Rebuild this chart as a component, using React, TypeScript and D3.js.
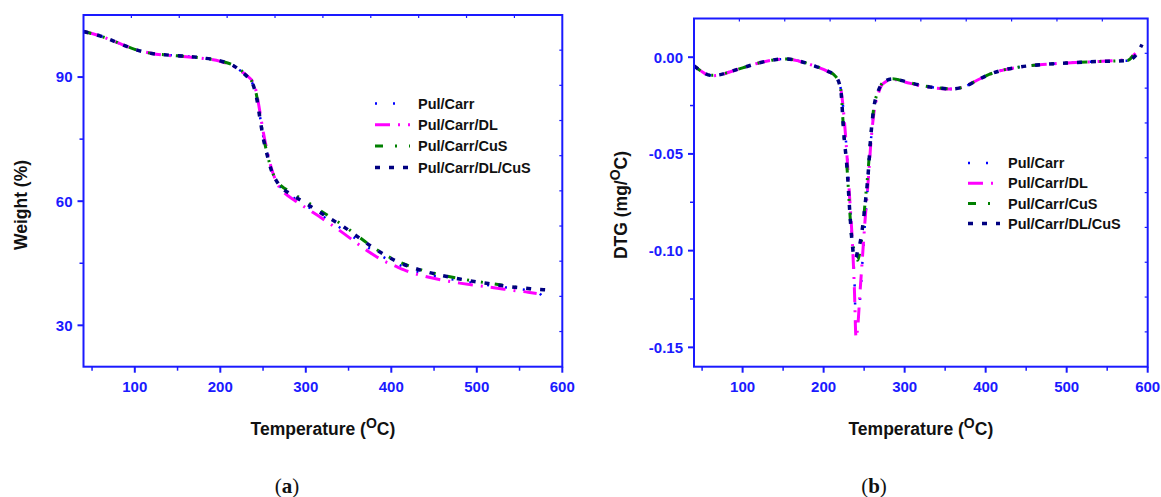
import React from "react";
import * as d3 from "d3";

// ---- data ----
const seriesNames = ["Pul/Carr", "Pul/Carr/DL", "Pul/Carr/CuS", "Pul/Carr/DL/CuS"];
const seriesColors = ["#0000ff", "#ff00ff", "#008000", "#000080"];

const xTicks = [100, 200, 300, 400, 500, 600];
const xMinorTicks = [50, 150, 250, 350, 450, 550];

// (a) TGA
const tgaTemp = [40, 60, 80, 100, 120, 140, 160, 180, 200, 215, 225, 232, 238, 242, 246, 250, 255, 260, 266, 272, 280, 290, 300, 315, 330, 345, 360, 375, 390, 405, 420, 440, 460, 480, 500, 520, 540, 560, 570, 578, 590];
const tgaPulCarr = [101.0, 99.9, 98.3, 96.7, 95.7, 95.3, 95.0, 94.6, 93.9, 92.8, 91.3, 90.0, 88.3, 85.8, 81.0, 76.0, 71.3, 67.5, 64.8, 63.0, 61.6, 60.3, 59.0, 57.0, 55.0, 52.9, 50.7, 48.5, 46.6, 45.0, 43.7, 42.4, 41.5, 40.8, 40.1, 39.5, 39.0, 38.5, 38.2, 36.6, null];
const tgaPulCarrDL = [101.0, 99.9, 98.3, 96.7, 95.7, 95.2, 94.9, 94.5, 93.8, 92.7, 91.3, 90.2, 88.8, 86.5, 82.0, 77.0, 72.0, 67.8, 64.5, 62.6, 61.2, 59.8, 58.4, 56.4, 54.3, 52.1, 49.8, 47.6, 45.7, 44.3, 43.0, 41.8, 40.9, 40.2, 39.6, 39.1, 38.5, 38.0, 37.7, null, null];
const tgaPulCarrCuS = [101.0, 99.9, 98.3, 96.7, 95.7, 95.3, 95.0, 94.6, 93.9, 92.9, 91.5, 90.2, 88.5, 86.0, 81.0, 76.0, 71.3, 67.5, 65.0, 63.6, 62.5, 61.2, 60.0, 58.0, 56.0, 54.0, 51.7, 49.4, 47.4, 45.7, 44.4, 43.1, 42.1, 41.3, 40.6, 40.0, 39.4, 38.9, 38.7, null, null];
const tgaPulCarrDLCuS = [101.0, 99.9, 98.3, 96.7, 95.7, 95.3, 95.0, 94.6, 93.9, 92.8, 91.3, 90.0, 88.3, 85.5, 80.5, 75.5, 71.0, 67.3, 64.8, 63.2, 62.0, 60.7, 59.5, 57.5, 55.6, 53.7, 51.5, 49.3, 47.3, 45.6, 44.3, 43.0, 42.0, 41.2, 40.5, 39.9, 39.3, 38.9, 38.7, 38.6, 38.4];
const tgaTicks = [30, 60, 90];
const tgaMinorTicks = [45, 75];

// (b) DTG
const dtgTemp = [40, 50, 60, 70, 85, 100, 120, 140, 155, 170, 190, 205, 215, 221, 225, 229, 232, 235, 238, 240, 242, 245, 248, 251, 255, 258, 262, 267, 273, 285, 300, 320, 340, 360, 375, 390, 405, 420, 440, 470, 500, 540, 575, 585, 593];
const dtgPulCarr = [-0.0045, -0.0075, -0.0094, -0.0092, -0.0074, -0.0055, -0.0030, -0.0013, -0.0009, -0.0020, -0.0047, -0.0072, -0.0100, -0.0160, -0.0300, -0.0520, -0.0720, -0.0920, -0.1150, -0.1400, -0.1370, -0.1250, -0.1050, -0.0860, -0.0640, -0.0450, -0.0280, -0.0190, -0.0135, -0.0113, -0.0126, -0.0146, -0.0159, -0.0165, -0.0150, -0.0118, -0.0088, -0.0068, -0.0052, -0.0038, -0.0030, -0.0022, -0.0018, -0.0022, null];
const dtgPulCarrDL = [-0.0045, -0.0075, -0.0096, -0.0094, -0.0075, -0.0055, -0.0030, -0.0013, -0.0009, -0.0021, -0.0048, -0.0073, -0.0098, -0.0160, -0.0300, -0.0520, -0.0720, -0.0920, -0.1200, -0.1450, -0.1400, -0.1210, -0.1030, -0.0850, -0.0640, -0.0460, -0.0290, -0.0195, -0.0138, -0.0115, -0.0128, -0.0148, -0.0160, -0.0165, -0.0150, -0.0118, -0.0088, -0.0068, -0.0052, -0.0038, -0.0030, -0.0022, -0.0012, 0.0020, null];
const dtgPulCarrCuS = [-0.0045, -0.0075, -0.0094, -0.0092, -0.0074, -0.0055, -0.0030, -0.0013, -0.0009, -0.0020, -0.0047, -0.0072, -0.0100, -0.0165, -0.0400, -0.0580, -0.0780, -0.0950, -0.1000, -0.1040, -0.1050, -0.1000, -0.0900, -0.0760, -0.0580, -0.0420, -0.0260, -0.0180, -0.0132, -0.0112, -0.0125, -0.0145, -0.0158, -0.0164, -0.0150, -0.0118, -0.0088, -0.0068, -0.0052, -0.0038, -0.0030, -0.0022, -0.0017, 0.0030, null];
const dtgPulCarrDLCuS = [-0.0045, -0.0075, -0.0094, -0.0092, -0.0074, -0.0055, -0.0030, -0.0013, -0.0009, -0.0020, -0.0047, -0.0072, -0.0100, -0.0165, -0.0400, -0.0580, -0.0780, -0.0950, -0.1040, -0.1035, -0.1000, -0.0960, -0.0880, -0.0770, -0.0600, -0.0420, -0.0260, -0.0180, -0.0132, -0.0112, -0.0125, -0.0145, -0.0158, -0.0164, -0.0150, -0.0118, -0.0088, -0.0068, -0.0052, -0.0038, -0.0030, -0.0022, -0.0017, 0.0008, 0.0066];
const dtgTicks = [0, -0.05, -0.1, -0.15];
const dtgMinorTicks = [-0.025, -0.075, -0.125];

// line styles per series (Origin-like)
const lineStyles = [
  { dash: "2,16", width: 2.5 },
  { dash: "15,8,2,8", width: 3 },
  { dash: "8,12,2,12,2,12", width: 3 },
  { dash: "5,9", width: 3.5 },
];

const AXIS = "#1a1aff";
const FONT = "'Liberation Sans', Arial, sans-serif";

type PanelProps = {
  frame: { left: number; top: number; right: number; bottom: number };
  xDomain: [number, number];
  yDomain: [number, number];
  xs: number[];
  series: (number | null)[][];
  yTicks: number[];
  yMinor: number[];
  yFmt: (v: number) => string;
  yTitle: React.ReactNode;
  yTitleX: number;
  legend: { x: number; y: number; gap: number; len: number };
  caption: string;
  captionX: number;
};

function Panel(p: PanelProps) {
  const { left, top, right, bottom } = p.frame;
  const x = d3.scaleLinear().domain(p.xDomain).range([left, right]);
  const y = d3.scaleLinear().domain(p.yDomain).range([bottom, top]);
  const xc = (left + right) / 2;

  // top/right axes carry 10 equal inner divisions
  const topTicks = d3.range(1, 10).map((i) => p.xDomain[0] + (i * (p.xDomain[1] - p.xDomain[0])) / 10);
  const rightTicks = d3.range(1, 10).map((i) => p.yDomain[0] + (i * (p.yDomain[1] - p.yDomain[0])) / 10);

  const line = d3
    .line<number | null>()
    .defined((d) => d != null)
    .x((_, i) => x(p.xs[i]))
    .y((d) => y(d as number))
    .curve(d3.curveMonotoneX);

  return (
    <g>
      {p.series.map((s, i) => (
        <path
          key={i}
          d={line(s) || ""}
          fill="none"
          stroke={seriesColors[i]}
          strokeWidth={lineStyles[i].width}
          strokeDasharray={lineStyles[i].dash}
        />
      ))}

      <rect x={left} y={top} width={right - left} height={bottom - top} fill="none" stroke={AXIS} strokeWidth={2} />

      {xTicks.map((t) => (
        <g key={"x" + t}>
          <line x1={x(t)} x2={x(t)} y1={bottom} y2={bottom + 6} stroke={AXIS} strokeWidth={2} />
          <text x={x(t)} y={bottom + 25} textAnchor="middle" fill={AXIS} fontFamily={FONT} fontWeight="bold" fontSize={15}>
            {t}
          </text>
        </g>
      ))}
      {xMinorTicks.map((t) => (
        <line key={"xm" + t} x1={x(t)} x2={x(t)} y1={bottom} y2={bottom + 4} stroke={AXIS} strokeWidth={1.5} />
      ))}
      {topTicks.map((t, i) => (
        <line key={"xt" + i} x1={x(t)} x2={x(t)} y1={top} y2={top + 3} stroke={AXIS} strokeWidth={1.2} />
      ))}

      {p.yTicks.map((t) => (
        <g key={"y" + t}>
          <line x1={left - 6} x2={left} y1={y(t)} y2={y(t)} stroke={AXIS} strokeWidth={2} />
          <text x={left - 11} y={y(t)} dy="0.36em" textAnchor="end" fill={AXIS} fontFamily={FONT} fontWeight="bold" fontSize={15}>
            {p.yFmt(t)}
          </text>
        </g>
      ))}
      {p.yMinor.map((t) => (
        <line key={"ym" + t} x1={left - 4} x2={left} y1={y(t)} y2={y(t)} stroke={AXIS} strokeWidth={1.5} />
      ))}
      {rightTicks.map((t, i) => (
        <line key={"yr" + i} x1={right - 3} x2={right} y1={y(t)} y2={y(t)} stroke={AXIS} strokeWidth={1.2} />
      ))}

      <text x={xc} y={bottom + 68} textAnchor="middle" fontFamily={FONT} fontWeight="bold" fontSize={17.5} fill="#111">
        Temperature (<tspan dy={-7} fontSize={14}>O</tspan>
        <tspan dy={7}>C)</tspan>
      </text>
      <text
        transform={`translate(${p.yTitleX},205) rotate(-90)`}
        textAnchor="middle"
        fontFamily={FONT}
        fontWeight="bold"
        fontSize={17.5}
        fill="#111"
      >
        {p.yTitle}
      </text>

      {seriesNames.map((name, i) => {
        const ly = p.legend.y + i * p.legend.gap;
        return (
          <g key={name}>
            <line
              x1={p.legend.x}
              x2={p.legend.x + p.legend.len}
              y1={ly}
              y2={ly}
              stroke={seriesColors[i]}
              strokeWidth={lineStyles[i].width}
              strokeDasharray={lineStyles[i].dash}
            />
            <text x={p.legend.x + p.legend.len + 8} y={ly} dy="0.36em" fontFamily={FONT} fontWeight="bold" fontSize={14.5} fill="#111">
              {name}
            </text>
          </g>
        );
      })}

      <text x={p.captionX} y={493} textAnchor="middle" fontFamily="'Liberation Serif', 'DejaVu Serif', serif" fontSize={21} fill="#111">
        (<tspan fontWeight="bold">{p.caption}</tspan>)
      </text>
    </g>
  );
}

export default function App() {
  return (
    <svg width={1161} height={497} style={{ position: "absolute", left: 0, top: 0, background: "#fff" }}>
      <Panel
        frame={{ left: 83.5, top: 15, right: 562.3, bottom: 366.7 }}
        xDomain={[40, 600]}
        yDomain={[20, 105]}
        xs={tgaTemp}
        series={[tgaPulCarr, tgaPulCarrDL, tgaPulCarrCuS, tgaPulCarrDLCuS]}
        yTicks={tgaTicks}
        yMinor={tgaMinorTicks}
        yFmt={(v) => String(v)}
        yTitle="Weight (%)"
        yTitleX={27}
        legend={{ x: 375, y: 103.5, gap: 21.3, len: 35 }}
        caption="a"
        captionX={287}
      />
      <Panel
        frame={{ left: 694, top: 18.5, right: 1147.7, bottom: 366.7 }}
        xDomain={[40, 600]}
        yDomain={[-0.16, 0.02]}
        xs={dtgTemp}
        series={[dtgPulCarr, dtgPulCarrDL, dtgPulCarrCuS, dtgPulCarrDLCuS]}
        yTicks={dtgTicks}
        yMinor={dtgMinorTicks}
        yFmt={(v) => (Math.abs(v) < 1e-9 ? "0.00" : v.toFixed(2))}
        yTitle={
          <>
            DTG (mg/<tspan dy={-7} fontSize={14}>O</tspan>
            <tspan dy={7}>C)</tspan>
          </>
        }
        yTitleX={627}
        legend={{ x: 968, y: 163, gap: 20.2, len: 32 }}
        caption="b"
        captionX={874}
      />
    </svg>
  );
}
